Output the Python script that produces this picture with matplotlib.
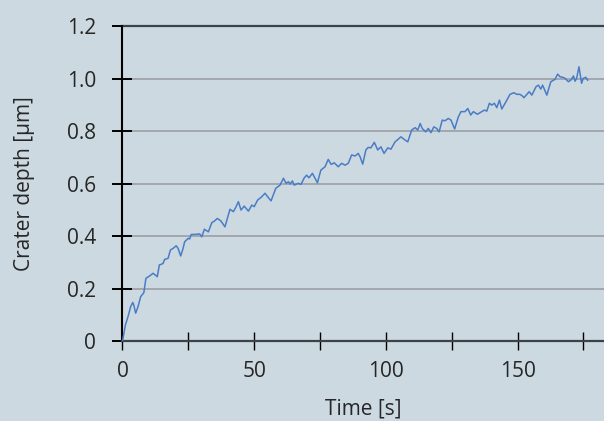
import numpy as np
from matplotlib import pyplot as plt


BG = "#ccd9e1"
LINE_COLOR = "#4a7cc6"

time_s = [
    0.0, 1.1, 2.1, 3.1, 3.9, 4.3, 5.0, 5.9, 6.9, 8.1, 8.9, 10.3, 11.6, 12.5, 13.2,
    14.0, 14.7, 15.4, 16.0, 17.3, 18.2, 19.2, 20.4, 21.1, 22.1, 23.0, 23.6, 24.9,
    25.5, 26.1, 27.4, 29.3, 30.1, 31.1, 32.6, 33.9, 34.9, 36.0, 37.4, 38.9, 40.8,
    42.1, 43.0, 44.0, 45.0, 46.2, 47.8, 49.1, 50.0, 51.3, 52.9, 54.1, 55.1, 56.4,
    58.2, 59.8, 61.1, 62.1, 63.0, 63.6, 64.5, 65.2, 66.7, 67.8, 68.9, 69.9, 70.8,
    72.1, 73.1, 74.0, 75.3, 76.9, 78.1, 79.2, 80.4, 81.9, 83.2, 84.5, 85.7, 87.0,
    88.3, 89.5, 90.2, 91.2, 92.4, 93.3, 94.3, 95.6, 96.9, 98.1, 99.3, 100.7, 101.9,
    103.5, 105.7, 107.0, 108.3, 109.8, 111.1, 112.1, 113.0, 113.8, 115.1, 116.1,
    117.1, 118.2, 119.3, 120.2, 121.4, 122.4, 123.7, 124.7, 126.1, 127.5, 128.5,
    130.0, 131.1, 132.2, 133.2, 134.7, 136.4, 137.4, 138.3, 139.3, 140.2, 141.2,
    142.1, 143.1, 144.0, 145.6, 147.1, 148.6, 149.7, 150.9, 151.9, 152.4, 153.5,
    154.4, 155.4, 157.0, 157.9, 158.8, 159.5, 161.1, 162.6, 164.2, 165.2, 166.1,
    167.1, 168.0, 169.3, 170.2, 171.2, 171.8, 172.4, 173.3, 173.8, 174.3, 174.9,
    175.9, 176.6,
]
depth_um = [
    0.0, 0.061, 0.093, 0.131, 0.147, 0.137, 0.106, 0.131, 0.169, 0.184, 0.239,
    0.248, 0.258, 0.251, 0.245, 0.290, 0.292, 0.296, 0.311, 0.315, 0.347, 0.353,
    0.363, 0.353, 0.324, 0.353, 0.378, 0.391, 0.389, 0.406, 0.406, 0.408, 0.397,
    0.426, 0.416, 0.451, 0.457, 0.467, 0.457, 0.435, 0.502, 0.493, 0.509, 0.531,
    0.499, 0.514, 0.495, 0.518, 0.512, 0.537, 0.550, 0.563, 0.550, 0.534, 0.582,
    0.594, 0.620, 0.601, 0.607, 0.598, 0.610, 0.594, 0.601, 0.597, 0.620, 0.632,
    0.622, 0.639, 0.620, 0.603, 0.651, 0.664, 0.692, 0.673, 0.679, 0.664, 0.677,
    0.670, 0.677, 0.709, 0.705, 0.715, 0.702, 0.674, 0.728, 0.738, 0.736, 0.757,
    0.728, 0.740, 0.715, 0.736, 0.731, 0.759, 0.778, 0.768, 0.759, 0.804, 0.813,
    0.804, 0.829, 0.810, 0.797, 0.810, 0.794, 0.816, 0.810, 0.797, 0.842, 0.839,
    0.848, 0.842, 0.808, 0.854, 0.874, 0.874, 0.886, 0.861, 0.874, 0.864, 0.874,
    0.880, 0.876, 0.906, 0.899, 0.906, 0.889, 0.918, 0.884, 0.912, 0.940, 0.946,
    0.940, 0.940, 0.933, 0.927, 0.940, 0.950, 0.937, 0.969, 0.975, 0.960, 0.975,
    0.937, 0.988, 0.997, 1.017, 1.007, 1.005, 1.001, 0.988, 0.994, 1.010, 0.990,
    1.001, 1.045, 1.013, 0.982, 1.001, 1.005, 0.994,
]

x_ticks = [0, 25, 50, 75, 100, 125, 150, 175]
x_labels = ["0", "", "50", "", "100", "", "150", ""]
y_ticks = [0, 0.2, 0.4, 0.6, 0.8, 1.0, 1.2]
y_labels = ["0", "0.2", "0.4", "0.6", "0.8", "1.0", "1.2"]

TEXT_COLOR = "#262626"
FONT_SIZE = 15


def main():
    plt.rcParams["font.family"] = ["Open Sans", "DejaVu Sans"]
    fig = plt.figure(figsize=(6.04, 4.21), dpi=100, facecolor=BG)
    ax = fig.add_axes([0.2028, 0.19, 0.7972, 0.748])
    ax.set_facecolor(BG)

    # horizontal guide lines
    for y in y_ticks[1:-1]:
        ax.axhline(y, color="#9a9fa3", lw=1.2, zorder=1)
    ax.axhline(1.2, color="#3c4246", lw=1.6, zorder=2, clip_on=False)

    ax.plot(time_s, depth_um, color=LINE_COLOR, lw=1.1, zorder=3)

    ax.set_xlim(0, 182.8)
    ax.set_ylim(0, 1.2)

    for side in ("top", "right"):
        ax.spines[side].set_visible(False)
    ax.spines["bottom"].set_color("#3c4246")
    ax.spines["bottom"].set_linewidth(1.6)
    ax.spines["left"].set_color("black")
    ax.spines["left"].set_linewidth(1.5)

    ax.set_xticks(x_ticks, x_labels)
    ax.set_yticks(y_ticks, y_labels)
    ax.tick_params(axis="x", direction="inout", length=13, width=1.0,
                   color="black", pad=8, labelsize=FONT_SIZE, labelcolor=TEXT_COLOR)
    ax.tick_params(axis="y", direction="inout", length=14, width=1.4,
                   color="black", pad=12, labelsize=FONT_SIZE, labelcolor=TEXT_COLOR)

    ax.set_xlabel("Time [s]", fontsize=FONT_SIZE, color=TEXT_COLOR, labelpad=12)
    ax.set_ylabel("Crater depth [µm]", fontsize=FONT_SIZE, color=TEXT_COLOR,
                  labelpad=23)

    fig.savefig("out.png", dpi=100, facecolor=BG)


if __name__ == '__main__':
    main()
